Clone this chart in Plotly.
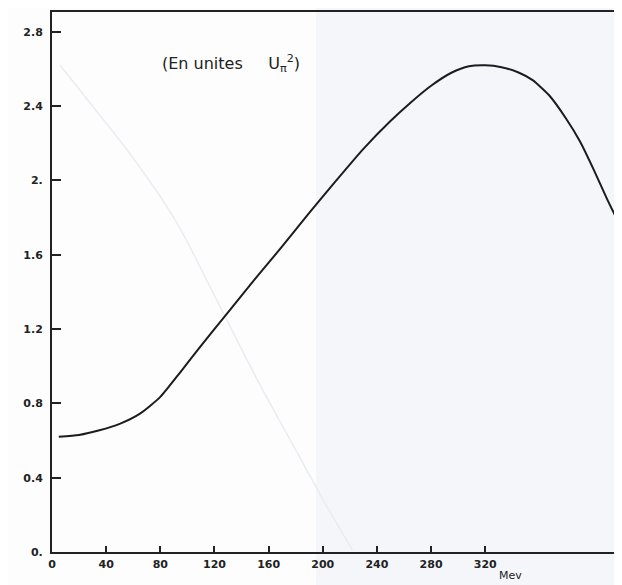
import plotly.graph_objects as go

# Main curve (energy in MeV, value in units U)
energy_mev = [5, 20, 35, 50, 65, 80, 95, 110, 130, 150, 170, 190, 210, 230, 250, 265, 280,
              295, 308, 320, 332, 345, 355, 367, 380, 390, 400, 410, 418]
value_u = [0.62, 0.63, 0.655, 0.69, 0.745, 0.835, 0.97, 1.11, 1.29, 1.47, 1.645, 1.825, 2.00,
           2.17, 2.32, 2.42, 2.51, 2.58, 2.615, 2.62, 2.61, 2.58, 2.54, 2.46, 2.33, 2.21, 2.06,
           1.90, 1.78]

# Faint show-through curve from the reverse side of the scanned page
ghost_x = [6, 30, 60, 90, 120, 150, 180, 205, 222]
ghost_y = [2.62, 2.40, 2.12, 1.80, 1.38, 0.95, 0.55, 0.22, 0.01]

x_ticks = [0, 40, 80, 120, 160, 200, 240, 280, 320]
x_ticktext = ["0", "40", "80", "120", "160", "200", "240", "280", "320"]
y_ticks = [0, 0.4, 0.8, 1.2, 1.6, 2.0, 2.4, 2.8]
y_ticktext = ["0.", "0.4", "0.8", "1.2", "1.6", "2.", "2.4", "2.8"]

# the page body adds an 8px offset, so the figure is drawn 8px smaller
OFF = 8
W, H = 622 - OFF, 585 - OFF
L, R, T, B = 52 - OFF, 0, 12 - OFF, 585 - 552
x_max = 421
y_max = 2.907

fig = go.Figure()
fig.add_trace(go.Scatter(x=ghost_x, y=ghost_y, mode="lines",
                         line=dict(color="#eaecf1", width=1.5, shape="spline"),
                         hoverinfo="skip", showlegend=False))
fig.add_trace(go.Scatter(x=energy_mev, y=value_u, mode="lines",
                         line=dict(color="#1c1c1c", width=2, shape="spline", smoothing=0.6),
                         showlegend=False))

tick_font = dict(family="DejaVu Sans", size=11, color="#222222", weight="bold")


def px_x(px):
    return (px - OFF - L) / (W - L - R)


def px_y(py):
    return (H - B - (py - OFF)) / (H - B - T)


fig.update_layout(
    width=W, height=H,
    margin=dict(l=L, r=R, t=T, b=B, pad=0),
    paper_bgcolor="#fdfdfe",
    plot_bgcolor="rgba(0,0,0,0)",
    xaxis=dict(range=[0, x_max], tickvals=x_ticks, ticktext=x_ticktext,
               ticks="inside", ticklen=6, tickwidth=1.5, tickcolor="#222222",
               showline=True, linewidth=2, linecolor="#222222", mirror=True,
               showgrid=False, zeroline=False, tickfont=tick_font,
               ticklabelstandoff=1),
    yaxis=dict(range=[0, y_max], tickvals=y_ticks, ticktext=y_ticktext,
               ticks="inside", ticklen=9, tickwidth=1.5, tickcolor="#222222",
               showline=True, linewidth=2, linecolor="#222222", mirror=False,
               showgrid=False, zeroline=False, tickfont=tick_font,
               ticklabelstandoff=5),
    shapes=[dict(type="rect", xref="paper", yref="paper", x0=px_x(316), x1=1.2, y0=-0.1, y1=1.1,
                 fillcolor="#f4f6fa", line=dict(width=0), layer="below")],
    annotations=[
        dict(text="(En unites     U<sub>π</sub><sup>2</sup>)", xref="paper", yref="paper",
             x=px_x(160), y=px_y(63), xanchor="left", yanchor="middle",
             showarrow=False, font=dict(family="DejaVu Sans", size=16, color="#222222")),
        dict(text="Mev", xref="paper", yref="paper",
             x=px_x(497), y=px_y(575), xanchor="left", yanchor="middle",
             showarrow=False, font=dict(family="DejaVu Sans", size=11, color="#222222")),
    ],
)

fig.write_html("out.html")
